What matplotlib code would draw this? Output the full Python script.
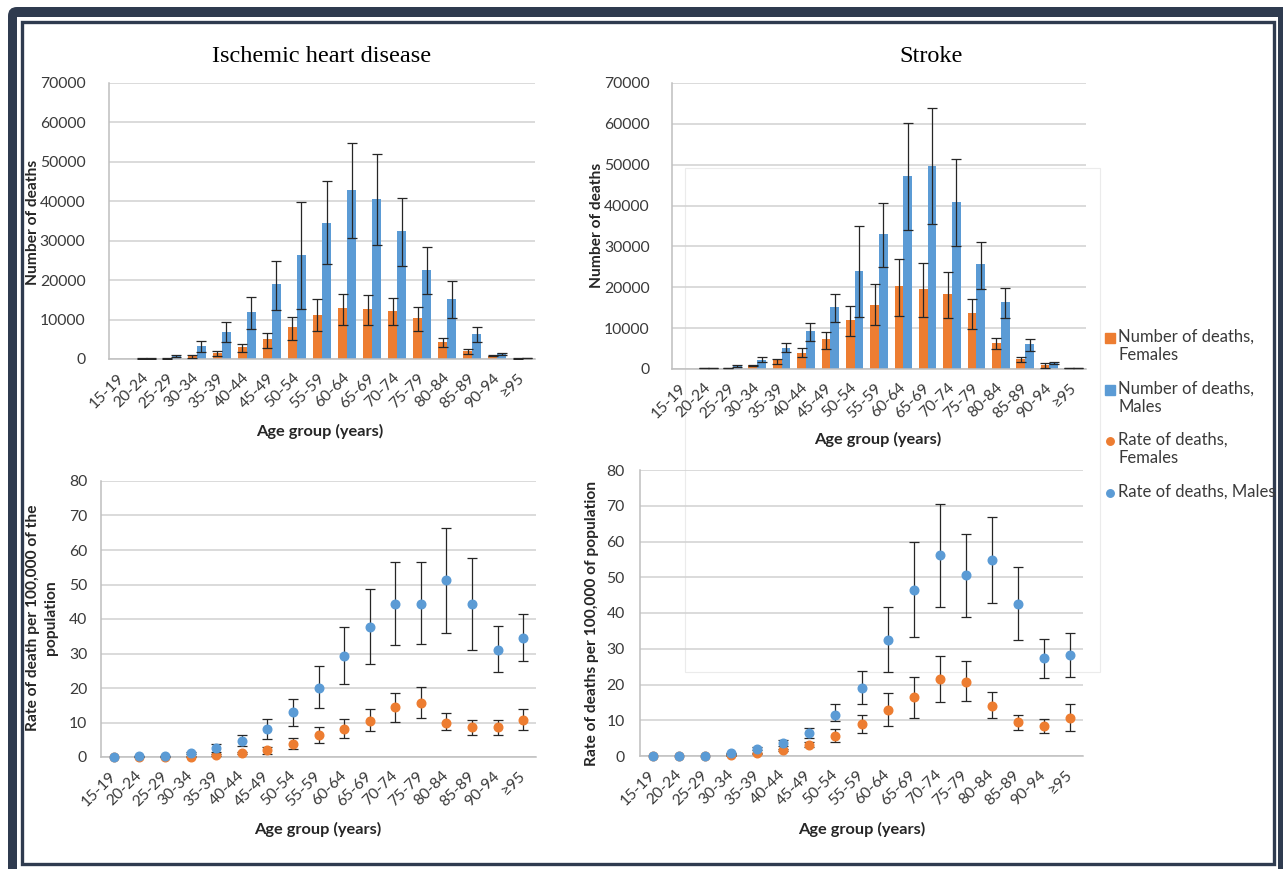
import matplotlib
matplotlib.use('Agg')
import matplotlib.pyplot as plt
from matplotlib.patches import Rectangle, FancyBboxPatch
import numpy as np

# ---------------- data ----------------
ages = ['15-19', '20-24', '25-29', '30-34', '35-39', '40-44', '45-49', '50-54', '55-59',
        '60-64', '65-69', '70-74', '75-79', '80-84', '85-89', '90-94', '≥95']

# Ischemic heart disease, number of deaths
ihd_f = [0, 100, 100, 850, 1500, 3000, 5000, 8000, 11100, 12900, 12600, 12200, 10300, 4300, 2100, 800, 100]
ihd_f_lo = [0, 50, 50, 200, 850, 1700, 2900, 4800, 7100, 8500, 8500, 8500, 7100, 3100, 1300, 650, 50]
ihd_f_hi = [0, 150, 150, 1000, 2000, 3900, 6600, 10600, 15100, 16600, 16200, 15500, 13100, 5300, 2600, 1000, 150]
ihd_m = [0, 100, 800, 3200, 6900, 11800, 18900, 26400, 34500, 42900, 40500, 32500, 22600, 15300, 6300, 1400, 200]
ihd_m_lo = [0, 50, 500, 1700, 4200, 7500, 12400, 12800, 24200, 30700, 28800, 23500, 16400, 10500, 4200, 900, 150]
ihd_m_hi = [0, 150, 1000, 4600, 9400, 15700, 24900, 39900, 45100, 54700, 52000, 40800, 28300, 19700, 8000, 1500, 250]

# Stroke, number of deaths
str_f = [0, 300, 300, 900, 2100, 4000, 7300, 11900, 15700, 20300, 19500, 18300, 13800, 6400, 2500, 1100, 300]
str_f_lo = [0, 250, 250, 700, 1300, 2900, 5000, 8100, 10700, 13000, 12700, 12600, 9900, 5000, 1700, 300, 250]
str_f_hi = [0, 350, 350, 1100, 2500, 5100, 9100, 15300, 20700, 26900, 25900, 23700, 17100, 7700, 2900, 1500, 350]
str_m = [0, 300, 800, 2300, 5200, 9400, 15100, 24000, 33000, 47300, 49800, 40900, 25600, 16400, 6000, 1500, 300]
str_m_lo = [0, 250, 600, 1700, 4100, 6900, 11600, 12700, 25000, 34100, 35500, 30200, 19600, 12500, 4400, 1200, 250]
str_m_hi = [0, 350, 1000, 2900, 6400, 11200, 18400, 35000, 40600, 60100, 63900, 51300, 31200, 19800, 7300, 1700, 350]

# Ischemic heart disease, rate per 100,000
ihdr_f = [0, 0, 0, 0.1, 0.5, 1.1, 2.0, 3.7, 6.3, 8.2, 10.5, 14.4, 15.7, 10.0, 8.6, 8.6, 10.8]
ihdr_f_lo = [0, 0, 0, 0.05, 0.3, 0.8, 1.0, 2.3, 4.1, 5.5, 7.4, 10.2, 11.2, 7.8, 6.5, 6.5, 7.8]
ihdr_f_hi = [0, 0, 0, 0.2, 0.8, 1.4, 3.0, 5.4, 8.7, 10.9, 13.8, 18.5, 20.2, 12.7, 10.7, 10.7, 13.8]
ihdr_m = [0, 0.2, 0.2, 1.2, 2.7, 4.7, 8.1, 12.9, 20.0, 29.2, 37.7, 44.3, 44.4, 51.3, 44.3, 31.1, 34.5]
ihdr_m_lo = [0, 0.1, 0.1, 0.9, 1.4, 3.1, 5.3, 9.0, 14.1, 21.2, 27.0, 32.6, 32.8, 35.9, 31.1, 24.5, 27.7]
ihdr_m_hi = [0, 0.3, 0.3, 1.5, 3.9, 6.5, 10.9, 16.7, 26.3, 37.7, 48.7, 56.4, 56.4, 66.5, 57.6, 38.1, 41.5]

# Stroke, rate per 100,000
strr_f = [0, 0, 0, 0.2, 0.7, 1.7, 3.2, 5.6, 8.9, 12.9, 16.4, 21.4, 20.7, 14.1, 9.4, 8.3, 10.7]
strr_f_lo = [0, 0, 0, 0.1, 0.5, 1.3, 2.6, 3.9, 6.3, 8.4, 10.7, 15.0, 15.3, 10.6, 7.3, 6.3, 6.9]
strr_f_hi = [0, 0, 0, 0.3, 0.9, 2.0, 3.8, 7.5, 11.5, 17.6, 22.0, 28.1, 26.5, 18.0, 11.6, 10.3, 14.5]
strr_m = [0, 0, 0, 0.7, 2.0, 3.6, 6.4, 11.5, 19.1, 32.4, 46.5, 56.1, 50.5, 54.7, 42.5, 27.3, 28.2]
strr_m_lo = [0, 0, 0, 0.5, 1.6, 2.9, 5.0, 9.8, 14.5, 23.4, 33.3, 41.6, 38.9, 42.7, 32.5, 21.8, 22.2]
strr_m_hi = [0, 0, 0, 0.9, 2.5, 4.4, 7.9, 14.6, 23.9, 41.6, 59.9, 70.6, 62.0, 66.8, 52.8, 32.8, 34.5]

legend_labels = ['Number of deaths,\nFemales', 'Number of deaths,\nMales',
                 'Rate of deaths,\nFemales', 'Rate of deaths, Males']

# ---------------- styling ----------------
ORANGE = '#ED7D31'
BLUE = '#5B9BD5'
FRAME = '#2F3B4F'
GRID = '#D4D4D4'
SPINE = '#BFBFBF'
TICKC = '#3A3A3A'
LABELC = '#262626'
ERRC = '#262626'

W, H = 1283, 869
plt.rcParams['font.family'] = ['Lato', 'DejaVu Sans']
fig = plt.figure(figsize=(W / 100, H / 100), dpi=100)
fig.patch.set_facecolor('white')

# overlay in pixel coordinates (frame, faint box, legend)
ov = fig.add_axes([0, 0, 1, 1], zorder=-10)
ov.set_xlim(0, W)
ov.set_ylim(H, 0)
ov.axis('off')
ov.add_patch(FancyBboxPatch((8, 7), W + 40, H + 40, boxstyle='round,pad=0,rounding_size=9',
                            facecolor=FRAME, edgecolor='none'))
ov.add_patch(Rectangle((17, 17), 1278 - 17, H + 20, facecolor='white', edgecolor='none'))
ov.add_patch(Rectangle((21.5, 21.5), 1273.5 - 21.5, 863.5 - 21.5, facecolor='none',
                       edgecolor=FRAME, lw=2.4))
ov.add_patch(Rectangle((685, 168), 1100 - 685, 672 - 168, facecolor='none',
                       edgecolor='#EBEBEB', lw=0.8))

# legend (manual)
leg_items = [('s', ORANGE, 338, 10), ('s', BLUE, 390, 10), ('o', ORANGE, 441, 7.5), ('o', BLUE, 493, 7.5)]
for (mk, col, yy, ms), lab in zip(leg_items, legend_labels):
    ov.plot([1110], [yy], marker=mk, color=col, ms=ms * 0.72, ls='none')
    ov.text(1118, yy - 9.5, lab, ha='left', va='top', fontsize=12, color=TICKC, linespacing=1.2)


def rect(l, t, r, b):
    return [l / W, 1 - b / H, (r - l) / W, (b - t) / H]


def style(ax, ymax, step, ypad):
    ax.set_facecolor('none')
    ax.set_xlim(-0.5, len(ages) - 0.5)
    ax.set_ylim(0, ymax)
    ax.set_yticks(np.arange(0, ymax + 1, step))
    ax.yaxis.grid(True, color=GRID, lw=1.2)
    ax.set_axisbelow(True)
    for s in ['top', 'right']:
        ax.spines[s].set_visible(False)
    for s in ['left', 'bottom']:
        ax.spines[s].set_color(SPINE)
        ax.spines[s].set_linewidth(1.1)
    ax.set_xticks(np.arange(len(ages)))
    ax.set_xticklabels(ages, rotation=45, ha='right', va='center', rotation_mode='anchor')
    ax.tick_params(axis='both', length=0, labelsize=11.3, colors=TICKC)
    ax.tick_params(axis='y', pad=ypad)
    ax.tick_params(axis='x', pad=12)


def bars(ax, f, flo, fhi, m, mlo, mhi):
    x = np.arange(len(ages))
    w = 0.36
    for off, v, lo, hi, col in [(-w / 2, f, flo, fhi, ORANGE), (w / 2, m, mlo, mhi, BLUE)]:
        v = np.array(v, float); lo = np.array(lo, float); hi = np.array(hi, float)
        ax.bar(x + off, v, width=w, color=col, zorder=2)
        k = hi > lo
        ax.errorbar((x + off)[k], v[k], yerr=[(v - lo)[k], (hi - v)[k]], fmt='none',
                    ecolor=ERRC, elinewidth=0.9, capsize=3.6, capthick=0.9, zorder=3)


def dots(ax, f, flo, fhi, m, mlo, mhi):
    x = np.arange(len(ages))
    for v, lo, hi, col, z in [(f, flo, fhi, ORANGE, 3), (m, mlo, mhi, BLUE, 4)]:
        v = np.array(v, float); lo = np.array(lo, float); hi = np.array(hi, float)
        k = hi > lo
        ax.errorbar(x[k], v[k], yerr=[(v - lo)[k], (hi - v)[k]], fmt='none',
                    ecolor=ERRC, elinewidth=0.9, capsize=3.6, capthick=0.9, zorder=z)
        ax.plot(x, v, 'o', color=col, ms=6.2, zorder=z + 0.5, clip_on=False)


ax1 = fig.add_axes(rect(109, 83, 535, 359))
style(ax1, 70000, 10000, 17)
bars(ax1, ihd_f, ihd_f_lo, ihd_f_hi, ihd_m, ihd_m_lo, ihd_m_hi)

ax2 = fig.add_axes(rect(672, 83, 1086, 369))
style(ax2, 70000, 10000, 16)
bars(ax2, str_f, str_f_lo, str_f_hi, str_m, str_m_lo, str_m_hi)

ax3 = fig.add_axes(rect(101, 481, 536, 757))
style(ax3, 80, 10, 10)
dots(ax3, ihdr_f, ihdr_f_lo, ihdr_f_hi, ihdr_m, ihdr_m_lo, ihdr_m_hi)

ax4 = fig.add_axes(rect(640, 470, 1083, 756))
style(ax4, 80, 10, 11)
dots(ax4, strr_f, strr_f_lo, strr_f_hi, strr_m, strr_m_lo, strr_m_hi)


def ftext(x, y, s, **kw):
    fig.text(x / W, 1 - y / H, s, **kw)


ftext(322, 56, 'Ischemic heart disease', ha='center', va='center', fontsize=17.5,
      family='Liberation Serif', color='black')
ftext(931, 56, 'Stroke', ha='center', va='center', fontsize=17.5,
      family='Liberation Serif', color='black')

lab = dict(fontsize=11.2, fontweight='bold', color=LABELC, ha='center', va='center')
xlab = dict(lab, fontsize=11.8)
ftext(33, 222, 'Number of deaths', rotation=90, **lab)
ftext(597, 225, 'Number of deaths', rotation=90, **lab)
ftext(42, 618, 'Rate of death per 100,000 of the\npopulation', rotation=90, linespacing=1.3, **lab)
ftext(592, 623, 'Rate of deaths per 100,000 of population', rotation=90, **lab)
ftext(320, 431, 'Age group (years)', **xlab)
ftext(878, 439, 'Age group (years)', **xlab)
ftext(318, 829, 'Age group (years)', **xlab)
ftext(862, 829, 'Age group (years)', **xlab)

fig.savefig('out.png', dpi=100, facecolor='white')
